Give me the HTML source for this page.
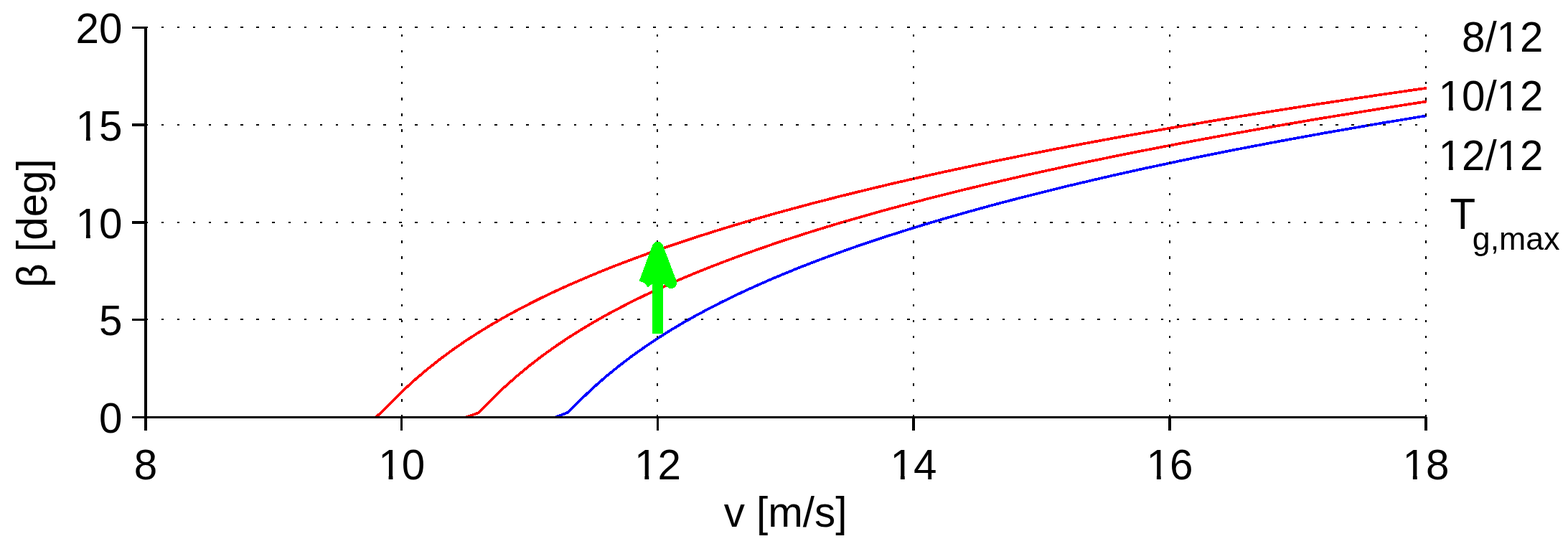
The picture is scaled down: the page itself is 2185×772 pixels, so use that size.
<!DOCTYPE html>
<html lang="en"><head><meta charset="utf-8"><title>Pitch angle vs wind speed</title>
<style>
html,body{margin:0;padding:0;background:#fff;width:2185px;height:772px;overflow:hidden;}
svg{position:absolute;left:0;top:0;}
svg{display:block;}
text{font-family:"Liberation Sans",sans-serif;font-size:58.33px;fill:#000;}
.grid,.ax{fill:#000;stroke:none;shape-rendering:crispEdges;}
.c{shape-rendering:crispEdges;fill:none;stroke-width:3.7;stroke-linejoin:round;stroke-linecap:butt;}
</style></head><body>
<svg role="img" aria-label="Pitch angle versus wind speed for three generator torque limits" width="2185" height="772" viewBox="0 0 2185 772">
<rect width="2185" height="772" fill="#fff"/>
<clipPath id="plot"><rect x="203" y="30" width="1786" height="552.5"/></clipPath>
<g clip-path="url(#plot)">
<polyline class="c" stroke="#f00" points="524.1,581.5 542.0,563.8 559.8,546.1 577.6,529.7 595.5,514.5 613.3,500.4 631.2,487.2 649.0,474.9 666.8,463.4 684.7,452.5 702.5,442.2 720.4,432.5 738.2,423.2 756.0,414.3 773.9,405.8 791.7,397.7 809.6,389.9 827.4,382.4 845.2,375.1 863.1,368.1 880.9,361.4 898.8,354.8 916.6,348.4 934.4,342.3 952.3,336.3 970.1,330.4 988.0,324.8 1005.8,319.2 1023.6,313.8 1041.5,308.5 1059.3,303.4 1077.2,298.3 1095.0,293.4 1112.8,288.6 1130.7,283.8 1148.5,279.2 1166.4,274.6 1184.2,270.2 1202.0,265.8 1219.9,261.5 1237.7,257.2 1255.6,253.1 1273.4,249.0 1291.2,245.0 1309.1,241.0 1326.9,237.1 1344.8,233.3 1362.6,229.5 1380.4,225.8 1398.3,222.1 1416.1,218.5 1434.0,214.9 1451.8,211.4 1469.6,207.9 1487.5,204.5 1505.3,201.1 1523.2,197.8 1541.0,194.5 1558.8,191.2 1576.7,188.0 1594.5,184.9 1612.4,181.7 1630.2,178.6 1648.0,175.5 1665.9,172.5 1683.7,169.5 1701.6,166.5 1719.4,163.6 1737.2,160.7 1755.1,157.8 1772.9,155.0 1790.8,152.2 1808.6,149.4 1826.4,146.6 1844.3,143.9 1862.1,141.2 1880.0,138.5 1897.8,135.8 1915.6,133.2 1933.5,130.6 1951.3,128.0 1969.2,125.4 1987.0,122.9 1987.8,122.8"/>
<polyline class="c" stroke="#f00" points="649.0,581.5 666.8,575.3 684.7,557.0 702.5,539.9 720.4,524.0 738.2,509.3 756.0,495.6 773.9,482.8 791.7,470.8 809.6,459.6 827.4,448.9 845.2,438.8 863.1,429.3 880.9,420.1 898.8,411.4 916.6,403.1 934.4,395.1 952.3,387.4 970.1,379.9 988.0,372.8 1005.8,365.9 1023.6,359.2 1041.5,352.7 1059.3,346.4 1077.2,340.2 1095.0,334.3 1112.8,328.5 1130.7,322.8 1148.5,317.3 1166.4,311.9 1184.2,306.7 1202.0,301.6 1219.9,296.5 1237.7,291.6 1255.6,286.8 1273.4,282.1 1291.2,277.4 1309.1,272.9 1326.9,268.4 1344.8,264.0 1362.6,259.7 1380.4,255.5 1398.3,251.4 1416.1,247.3 1434.0,243.2 1451.8,239.3 1469.6,235.4 1487.5,231.5 1505.3,227.7 1523.2,224.0 1541.0,220.3 1558.8,216.7 1576.7,213.1 1594.5,209.6 1612.4,206.1 1630.2,202.7 1648.0,199.3 1665.9,195.9 1683.7,192.6 1701.6,189.3 1719.4,186.1 1737.2,182.9 1755.1,179.7 1772.9,176.6 1790.8,173.5 1808.6,170.5 1826.4,167.4 1844.3,164.4 1862.1,161.5 1880.0,158.6 1897.8,155.7 1915.6,152.8 1933.5,149.9 1951.3,147.1 1969.2,144.3 1987.0,141.6 1987.8,141.5"/>
<polyline class="c" stroke="#00f" points="773.9,581.5 791.7,574.5 809.6,556.5 827.4,539.7 845.2,524.1 863.1,509.6 880.9,496.0 898.8,483.4 916.6,471.5 934.4,460.2 952.3,449.6 970.1,439.6 988.0,430.0 1005.8,420.9 1023.6,412.2 1041.5,403.8 1059.3,395.8 1077.2,388.0 1095.0,380.6 1112.8,373.3 1130.7,366.4 1148.5,359.6 1166.4,353.1 1184.2,346.7 1202.0,340.5 1219.9,334.5 1237.7,328.7 1255.6,323.0 1273.4,317.4 1291.2,312.0 1309.1,306.7 1326.9,301.5 1344.8,296.4 1362.6,291.5 1380.4,286.6 1398.3,281.8 1416.1,277.2 1434.0,272.6 1451.8,268.1 1469.6,263.7 1487.5,259.3 1505.3,255.1 1523.2,250.9 1541.0,246.8 1558.8,242.7 1576.7,238.7 1594.5,234.8 1612.4,231.0 1630.2,227.2 1648.0,223.4 1665.9,219.7 1683.7,216.1 1701.6,212.5 1719.4,209.0 1737.2,205.5 1755.1,202.1 1772.9,198.7 1790.8,195.4 1808.6,192.1 1826.4,188.9 1844.3,185.6 1862.1,182.5 1880.0,179.4 1897.8,176.3 1915.6,173.2 1933.5,170.2 1951.3,167.3 1969.2,164.3 1987.0,161.4 1987.8,161.3"/>
</g>
<path class="grid" d="M202 37h4v2h-4zM225 37h3v2h-3zM247 37h3v2h-3zM269 37h3v2h-3zM291 37h3v2h-3zM313 37h4v2h-4zM335 37h4v2h-4zM357 37h4v2h-4zM379 37h4v2h-4zM402 37h3v2h-3zM424 37h3v2h-3zM446 37h3v2h-3zM468 37h3v2h-3zM490 37h3v2h-3zM512 37h4v2h-4zM534 37h4v2h-4zM556 37h4v2h-4zM578 37h4v2h-4zM601 37h3v2h-3zM623 37h3v2h-3zM645 37h3v2h-3zM667 37h3v2h-3zM689 37h4v2h-4zM711 37h4v2h-4zM733 37h4v2h-4zM755 37h4v2h-4zM777 37h4v2h-4zM800 37h3v2h-3zM822 37h3v2h-3zM844 37h3v2h-3zM866 37h3v2h-3zM888 37h4v2h-4zM910 37h4v2h-4zM932 37h4v2h-4zM954 37h4v2h-4zM977 37h3v2h-3zM999 37h3v2h-3zM1021 37h3v2h-3zM1043 37h3v2h-3zM1065 37h3v2h-3zM1087 37h4v2h-4zM1109 37h4v2h-4zM1131 37h4v2h-4zM1153 37h4v2h-4zM1176 37h3v2h-3zM1198 37h3v2h-3zM1220 37h3v2h-3zM1242 37h3v2h-3zM1264 37h4v2h-4zM1286 37h4v2h-4zM1308 37h4v2h-4zM1330 37h4v2h-4zM1352 37h4v2h-4zM1375 37h3v2h-3zM1397 37h3v2h-3zM1419 37h3v2h-3zM1441 37h3v2h-3zM1463 37h4v2h-4zM1485 37h4v2h-4zM1507 37h4v2h-4zM1529 37h4v2h-4zM1552 37h3v2h-3zM1574 37h3v2h-3zM1596 37h3v2h-3zM1618 37h3v2h-3zM1640 37h3v2h-3zM1662 37h4v2h-4zM1684 37h4v2h-4zM1706 37h4v2h-4zM1728 37h4v2h-4zM1751 37h3v2h-3zM1773 37h3v2h-3zM1795 37h3v2h-3zM1817 37h3v2h-3zM1839 37h4v2h-4zM1861 37h4v2h-4zM1883 37h4v2h-4zM1905 37h4v2h-4zM1927 37h4v2h-4zM1950 37h3v2h-3zM1972 37h3v2h-3zM202 173h4v2h-4zM225 173h3v2h-3zM247 173h3v2h-3zM269 173h3v2h-3zM291 173h3v2h-3zM313 173h4v2h-4zM335 173h4v2h-4zM357 173h4v2h-4zM379 173h4v2h-4zM402 173h3v2h-3zM424 173h3v2h-3zM446 173h3v2h-3zM468 173h3v2h-3zM490 173h3v2h-3zM512 173h4v2h-4zM534 173h4v2h-4zM556 173h4v2h-4zM578 173h4v2h-4zM601 173h3v2h-3zM623 173h3v2h-3zM645 173h3v2h-3zM667 173h3v2h-3zM689 173h4v2h-4zM711 173h4v2h-4zM733 173h4v2h-4zM755 173h4v2h-4zM777 173h4v2h-4zM800 173h3v2h-3zM822 173h3v2h-3zM844 173h3v2h-3zM866 173h3v2h-3zM888 173h4v2h-4zM910 173h4v2h-4zM932 173h4v2h-4zM954 173h4v2h-4zM977 173h3v2h-3zM999 173h3v2h-3zM1021 173h3v2h-3zM1043 173h3v2h-3zM1065 173h3v2h-3zM1087 173h4v2h-4zM1109 173h4v2h-4zM1131 173h4v2h-4zM1153 173h4v2h-4zM1176 173h3v2h-3zM1198 173h3v2h-3zM1220 173h3v2h-3zM1242 173h3v2h-3zM1264 173h4v2h-4zM1286 173h4v2h-4zM1308 173h4v2h-4zM1330 173h4v2h-4zM1352 173h4v2h-4zM1375 173h3v2h-3zM1397 173h3v2h-3zM1419 173h3v2h-3zM1441 173h3v2h-3zM1463 173h4v2h-4zM1485 173h4v2h-4zM1507 173h4v2h-4zM1529 173h4v2h-4zM1552 173h3v2h-3zM1574 173h3v2h-3zM1596 173h3v2h-3zM1618 173h3v2h-3zM1640 173h3v2h-3zM1662 173h4v2h-4zM1684 173h4v2h-4zM1706 173h4v2h-4zM1728 173h4v2h-4zM1751 173h3v2h-3zM1773 173h3v2h-3zM1795 173h3v2h-3zM1817 173h3v2h-3zM1839 173h4v2h-4zM1861 173h4v2h-4zM1883 173h4v2h-4zM1905 173h4v2h-4zM1927 173h4v2h-4zM1950 173h3v2h-3zM1972 173h3v2h-3zM202 309h4v2h-4zM225 309h3v2h-3zM247 309h3v2h-3zM269 309h3v2h-3zM291 309h3v2h-3zM313 309h4v2h-4zM335 309h4v2h-4zM357 309h4v2h-4zM379 309h4v2h-4zM402 309h3v2h-3zM424 309h3v2h-3zM446 309h3v2h-3zM468 309h3v2h-3zM490 309h3v2h-3zM512 309h4v2h-4zM534 309h4v2h-4zM556 309h4v2h-4zM578 309h4v2h-4zM601 309h3v2h-3zM623 309h3v2h-3zM645 309h3v2h-3zM667 309h3v2h-3zM689 309h4v2h-4zM711 309h4v2h-4zM733 309h4v2h-4zM755 309h4v2h-4zM777 309h4v2h-4zM800 309h3v2h-3zM822 309h3v2h-3zM844 309h3v2h-3zM866 309h3v2h-3zM888 309h4v2h-4zM910 309h4v2h-4zM932 309h4v2h-4zM954 309h4v2h-4zM977 309h3v2h-3zM999 309h3v2h-3zM1021 309h3v2h-3zM1043 309h3v2h-3zM1065 309h3v2h-3zM1087 309h4v2h-4zM1109 309h4v2h-4zM1131 309h4v2h-4zM1153 309h4v2h-4zM1176 309h3v2h-3zM1198 309h3v2h-3zM1220 309h3v2h-3zM1242 309h3v2h-3zM1264 309h4v2h-4zM1286 309h4v2h-4zM1308 309h4v2h-4zM1330 309h4v2h-4zM1352 309h4v2h-4zM1375 309h3v2h-3zM1397 309h3v2h-3zM1419 309h3v2h-3zM1441 309h3v2h-3zM1463 309h4v2h-4zM1485 309h4v2h-4zM1507 309h4v2h-4zM1529 309h4v2h-4zM1552 309h3v2h-3zM1574 309h3v2h-3zM1596 309h3v2h-3zM1618 309h3v2h-3zM1640 309h3v2h-3zM1662 309h4v2h-4zM1684 309h4v2h-4zM1706 309h4v2h-4zM1728 309h4v2h-4zM1751 309h3v2h-3zM1773 309h3v2h-3zM1795 309h3v2h-3zM1817 309h3v2h-3zM1839 309h4v2h-4zM1861 309h4v2h-4zM1883 309h4v2h-4zM1905 309h4v2h-4zM1927 309h4v2h-4zM1950 309h3v2h-3zM1972 309h3v2h-3zM202 444h4v2h-4zM225 444h3v2h-3zM247 444h3v2h-3zM269 444h3v2h-3zM291 444h3v2h-3zM313 444h4v2h-4zM335 444h4v2h-4zM357 444h4v2h-4zM379 444h4v2h-4zM402 444h3v2h-3zM424 444h3v2h-3zM446 444h3v2h-3zM468 444h3v2h-3zM490 444h3v2h-3zM512 444h4v2h-4zM534 444h4v2h-4zM556 444h4v2h-4zM578 444h4v2h-4zM601 444h3v2h-3zM623 444h3v2h-3zM645 444h3v2h-3zM667 444h3v2h-3zM689 444h4v2h-4zM711 444h4v2h-4zM733 444h4v2h-4zM755 444h4v2h-4zM777 444h4v2h-4zM800 444h3v2h-3zM822 444h3v2h-3zM844 444h3v2h-3zM866 444h3v2h-3zM888 444h4v2h-4zM910 444h4v2h-4zM932 444h4v2h-4zM954 444h4v2h-4zM977 444h3v2h-3zM999 444h3v2h-3zM1021 444h3v2h-3zM1043 444h3v2h-3zM1065 444h3v2h-3zM1087 444h4v2h-4zM1109 444h4v2h-4zM1131 444h4v2h-4zM1153 444h4v2h-4zM1176 444h3v2h-3zM1198 444h3v2h-3zM1220 444h3v2h-3zM1242 444h3v2h-3zM1264 444h4v2h-4zM1286 444h4v2h-4zM1308 444h4v2h-4zM1330 444h4v2h-4zM1352 444h4v2h-4zM1375 444h3v2h-3zM1397 444h3v2h-3zM1419 444h3v2h-3zM1441 444h3v2h-3zM1463 444h4v2h-4zM1485 444h4v2h-4zM1507 444h4v2h-4zM1529 444h4v2h-4zM1552 444h3v2h-3zM1574 444h3v2h-3zM1596 444h3v2h-3zM1618 444h3v2h-3zM1640 444h3v2h-3zM1662 444h4v2h-4zM1684 444h4v2h-4zM1706 444h4v2h-4zM1728 444h4v2h-4zM1751 444h3v2h-3zM1773 444h3v2h-3zM1795 444h3v2h-3zM1817 444h3v2h-3zM1839 444h4v2h-4zM1861 444h4v2h-4zM1883 444h4v2h-4zM1905 444h4v2h-4zM1927 444h4v2h-4zM1950 444h3v2h-3zM1972 444h3v2h-3zM559 578h2v4h-2zM559 556h2v4h-2zM559 534h2v4h-2zM559 512h2v4h-2zM559 490h2v3h-2zM559 468h2v3h-2zM559 446h2v3h-2zM559 424h2v3h-2zM559 402h2v3h-2zM559 379h2v4h-2zM559 357h2v4h-2zM559 335h2v4h-2zM559 313h2v3h-2zM559 291h2v3h-2zM559 269h2v3h-2zM559 247h2v3h-2zM559 225h2v3h-2zM559 202h2v4h-2zM559 180h2v4h-2zM559 158h2v4h-2zM559 136h2v4h-2zM559 114h2v3h-2zM559 92h2v3h-2zM559 70h2v3h-2zM559 48h2v3h-2zM915 578h2v4h-2zM915 556h2v4h-2zM915 534h2v4h-2zM915 512h2v4h-2zM915 490h2v3h-2zM915 468h2v3h-2zM915 446h2v3h-2zM915 424h2v3h-2zM915 402h2v3h-2zM915 379h2v4h-2zM915 357h2v4h-2zM915 335h2v4h-2zM915 313h2v3h-2zM915 291h2v3h-2zM915 269h2v3h-2zM915 247h2v3h-2zM915 225h2v3h-2zM915 202h2v4h-2zM915 180h2v4h-2zM915 158h2v4h-2zM915 136h2v4h-2zM915 114h2v3h-2zM915 92h2v3h-2zM915 70h2v3h-2zM915 48h2v3h-2zM1272 578h2v4h-2zM1272 556h2v4h-2zM1272 534h2v4h-2zM1272 512h2v4h-2zM1272 490h2v3h-2zM1272 468h2v3h-2zM1272 446h2v3h-2zM1272 424h2v3h-2zM1272 402h2v3h-2zM1272 379h2v4h-2zM1272 357h2v4h-2zM1272 335h2v4h-2zM1272 313h2v3h-2zM1272 291h2v3h-2zM1272 269h2v3h-2zM1272 247h2v3h-2zM1272 225h2v3h-2zM1272 202h2v4h-2zM1272 180h2v4h-2zM1272 158h2v4h-2zM1272 136h2v4h-2zM1272 114h2v3h-2zM1272 92h2v3h-2zM1272 70h2v3h-2zM1272 48h2v3h-2zM1629 578h2v4h-2zM1629 556h2v4h-2zM1629 534h2v4h-2zM1629 512h2v4h-2zM1629 490h2v3h-2zM1629 468h2v3h-2zM1629 446h2v3h-2zM1629 424h2v3h-2zM1629 402h2v3h-2zM1629 379h2v4h-2zM1629 357h2v4h-2zM1629 335h2v4h-2zM1629 313h2v3h-2zM1629 291h2v3h-2zM1629 269h2v3h-2zM1629 247h2v3h-2zM1629 225h2v3h-2zM1629 202h2v4h-2zM1629 180h2v4h-2zM1629 158h2v4h-2zM1629 136h2v4h-2zM1629 114h2v3h-2zM1629 92h2v3h-2zM1629 70h2v3h-2zM1629 48h2v3h-2zM1986 578h2v4h-2zM1986 556h2v4h-2zM1986 534h2v4h-2zM1986 512h2v4h-2zM1986 490h2v3h-2zM1986 468h2v3h-2zM1986 446h2v3h-2zM1986 424h2v3h-2zM1986 402h2v3h-2zM1986 379h2v4h-2zM1986 357h2v4h-2zM1986 335h2v4h-2zM1986 313h2v3h-2zM1986 291h2v3h-2zM1986 269h2v3h-2zM1986 247h2v3h-2zM1986 225h2v3h-2zM1986 202h2v4h-2zM1986 180h2v4h-2zM1986 158h2v4h-2zM1986 136h2v4h-2zM1986 114h2v3h-2zM1986 92h2v3h-2zM1986 70h2v3h-2zM1986 48h2v3h-2z"/>
<path class="ax" d="M201 37H205V600H201zM184 580H1988V583H184zM184 37H203V40H184zM184 172H203V176H184zM184 308H203V312H184zM184 444H203V447H184zM558 581H561V600H558zM915 581H918V600H915zM1271 581H1275V600H1271zM1628 581H1632V600H1628zM1985 581H1989V600H1985z"/>
<g fill="#0f0" stroke="#0f0">
<path d="M909 465V380H924V465z" stroke="none" shape-rendering="crispEdges"/>
<path d="M898 394.3L916.5 344.5L935.4 394.3L916.5 379L898 394.3" stroke-width="15.6" stroke-linejoin="round" stroke-linecap="butt" shape-rendering="crispEdges"/>
</g>
<text x="186.78" y="668.0">8</text>
<text x="527.26" y="668.0">10</text>
<text x="884.06" y="668.0">12</text>
<text x="1240.56" y="668.0">14</text>
<text x="1597.56" y="668.0">16</text>
<text x="1954.56" y="668.0">18</text>
<text x="138.06" y="603.0">0</text>
<text x="138.06" y="467.0">5</text>
<text x="105.62" y="331.5">10</text>
<text x="105.62" y="195.5">15</text>
<text x="105.62" y="60.0">20</text>
<text x="2036.97" y="72.0">8/12</text>
<text x="2004.53" y="154.0">10/12</text>
<text x="2004.53" y="237.0">12/12</text>
<path fill="#fff" d="M530.53 662H541.58V669.5H530.53zM547.43 662H558.02V669.5H547.43zM887.33 662H898.38V669.5H887.33zM904.23 662H914.82V669.5H904.23zM1243.83 662H1254.88V669.5H1243.83zM1260.73 662H1271.32V669.5H1260.73zM1600.83 662H1611.88V669.5H1600.83zM1617.73 662H1628.32V669.5H1617.73zM1957.83 662H1968.88V669.5H1957.83zM1974.73 662H1985.32V669.5H1974.73zM108.89 326H119.94V333.0H108.89zM125.79 326H136.38V333.0H125.79zM108.89 190H119.94V197.0H108.89zM125.79 190H136.38V197.0H125.79zM2088.89 66H2099.94V73.5H2088.89zM2105.79 66H2116.38V73.5H2105.79zM2007.80 148H2018.85V155.5H2007.80zM2024.71 148H2035.30V155.5H2024.71zM2088.89 148H2099.94V155.5H2088.89zM2105.79 148H2116.38V155.5H2105.79zM2007.80 231H2018.85V238.5H2007.80zM2024.71 231H2035.30V238.5H2024.71zM2088.89 231H2099.94V238.5H2088.89zM2105.79 231H2116.38V238.5H2105.79z"/>
<text x="1094.5" y="734" text-anchor="middle">v [m/s]</text>
<text transform="translate(65,311) rotate(-90)" text-anchor="middle">β [deg]</text>
<text transform="translate(2020.4,319) scale(1,1.06)">T</text>
<text x="2051.8" y="348" style="font-size:44.7px">g,max</text>
</svg>
</body></html>
